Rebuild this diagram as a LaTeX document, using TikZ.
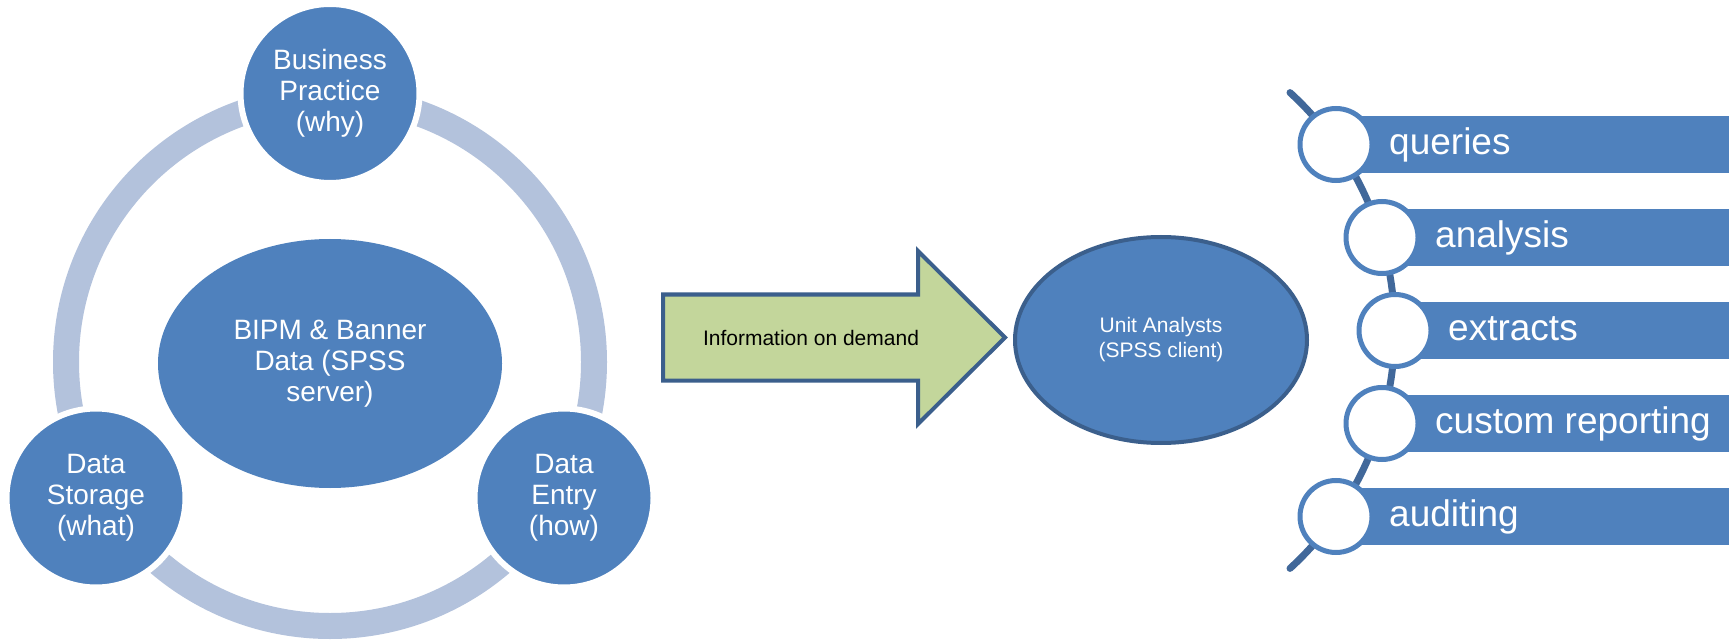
\documentclass[tikz,border=0pt]{standalone}
\usepackage{fontspec}
\setmainfont{Liberation Sans}
\usetikzlibrary{shapes.geometric}
\definecolor{mainblue}{HTML}{4F81BD}
\definecolor{ringblue}{HTML}{B3C2DC}
\definecolor{darkblue}{HTML}{3B5F8C}
\definecolor{spineblue}{HTML}{41689A}
\definecolor{arrowgreen}{HTML}{C3D69B}
\begin{document}
\begin{tikzpicture}[x=1pt,y=1pt,
  bigcirc/.style={circle, fill=mainblue, draw=white, line width=6pt, minimum size=179pt, inner sep=0pt, text=white, align=center, font=\fontsize{28}{31}\selectfont},
  coreell/.style={ellipse, fill=mainblue, minimum width=344pt, minimum height=249pt, inner sep=0pt, text=white, align=center, font=\fontsize{28}{31}\selectfont},
  unitell/.style={ellipse, fill=mainblue, draw=darkblue, line width=4pt, minimum width=292pt, minimum height=206pt, inner sep=0pt, text=white, align=center, font=\fontsize{21}{25}\selectfont},
  itemcirc/.style={circle, fill=white, draw=mainblue, line width=5pt, minimum size=72pt, inner sep=0pt},
  itembar/.style={rectangle, fill=mainblue, minimum width=#1, minimum height=57pt, inner sep=0pt, anchor=west},
  itemtext/.style={text=white, font=\fontsize{37}{40}\selectfont, inner sep=0pt, anchor=base west},
  ringline/.style={draw=ringblue, line width=26pt},
  spine/.style={draw=spineblue, line width=7pt, line cap=round},
  bigarrow/.style={draw=darkblue, fill=arrowgreen, line width=4pt, line join=miter}
]
\useasboundingbox (0,0) rectangle (1735,641);

% left cycle
\coordinate (rc) at (330,279);
\draw[ringline] (rc) circle[radius=264];
\node[coreell] (core) at (330,277.5) {BIPM \& Banner\\Data (SPSS\\server)};
\node[bigcirc] (bp) at (330,547.5) {Business\\Practice\\(why)};
\node[bigcirc] (ds) at (96,143) {Data\\Storage\\(what)};
\node[bigcirc] (de) at (564,143) {Data\\Entry\\(how)};

% arrow
\draw[bigarrow] (663,260.5) -- (918,260.5) -- (918,217) -- (1005,303.5) -- (918,390) -- (918,346.5) -- (663,346.5) -- cycle;
\node[font=\fontsize{21}{25}\selectfont, text=black] (info) at (811,303.5) {Information on demand};

% unit analysts
\node[unitell] (ua) at (1161,301) {Unit Analysts\\(SPSS client)};

% right list
\coordinate (sc) at (1072,310.5);
\draw[spine] ([shift={(47.5:322.7)}]sc) arc[start angle=47.5, end angle=-47.5, radius=322.7];

\node[itembar=393pt] (bq) at (1336,496.5) {};
\node[itembar=347pt] (ba) at (1382,403.5) {};
\node[itembar=334pt] (be) at (1395,310.5) {};
\node[itembar=347pt] (bc) at (1382,217.5) {};
\node[itembar=393pt] (bu) at (1336,124.5) {};

\node[itemcirc] (cq) at (1336,496.5) {};
\node[itemcirc] (ca) at (1382,403.5) {};
\node[itemcirc] (ce) at (1395,310.5) {};
\node[itemcirc] (cc) at (1382,217.5) {};
\node[itemcirc] (cu) at (1336,124.5) {};

\node[itemtext] (tq) at (1389,486.5) {queries};
\node[itemtext] (ta) at (1435,393.5) {analysis};
\node[itemtext] (te) at (1448,300.5) {extracts};
\node[itemtext] (tc) at (1435,207.5) {custom reporting};
\node[itemtext] (tu) at (1389,114.5) {auditing};
\end{tikzpicture}
\end{document}
